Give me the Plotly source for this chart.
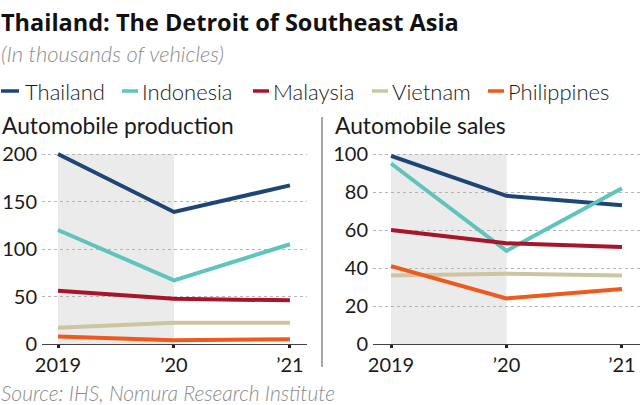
import plotly.graph_objects as go

W, H = 640, 405

years = [2019, 2020, 2021]
year_labels = ["2019", "\u201920", "\u201921"]
countries = ["Thailand", "Indonesia", "Malaysia", "Vietnam", "Philippines"]
colors = ["#1d4676", "#5ec4bd", "#a8152b", "#cdc4a0", "#ee5a1e"]

production_thailand = [200, 139, 167]
production_indonesia = [120, 67, 105]
production_malaysia = [56, 47.5, 46]
production_vietnam = [17, 22.5, 22.5]
production_philippines = [8, 4, 5]

sales_thailand = [99, 78, 73]
sales_indonesia = [95, 49, 82]
sales_malaysia = [60, 53, 51]
sales_vietnam = [36, 37, 36]
sales_philippines = [41, 24, 29]

prod_ticks = [0, 50, 100, 150, 200]
sales_ticks = [0, 20, 40, 60, 80, 100]

production = [production_thailand, production_indonesia, production_malaysia,
              production_vietnam, production_philippines]
sales = [sales_thailand, sales_indonesia, sales_malaysia, sales_vietnam, sales_philippines]

FONT = "Lato"
TXT = "#1a1a1a"
GRAY = "#8c8c8c"

def px(x):
    return x / W

def py(y):
    return 1 - y / H

fig = go.Figure()
for name, col, ys in zip(countries, colors, production):
    fig.add_trace(go.Scatter(x=years, y=ys, mode="lines", name=name,
                             line=dict(color=col, width=4), xaxis="x", yaxis="y",
                             showlegend=False, hoverinfo="skip"))
for name, col, ys in zip(countries, colors, sales):
    fig.add_trace(go.Scatter(x=years, y=ys, mode="lines", name=name,
                             line=dict(color=col, width=4), xaxis="x2", yaxis="y2",
                             showlegend=False, hoverinfo="skip"))

y_dom = [61 / H, (H - 148.3) / H]
common_x = dict(tickvals=years, ticktext=year_labels, showgrid=False, zeroline=False,
                showline=True, linecolor="#444", linewidth=1, automargin=False,
                ticks="outside", ticklen=3, tickwidth=3, tickcolor="#222",
                tickfont=dict(family=FONT, size=20, color=TXT), fixedrange=True)
common_y = dict(showgrid=True, gridcolor="#b5b5b5", griddash="dot", gridwidth=1,
                zeroline=False, showline=False, ticks="", automargin=False,
                tickfont=dict(family=FONT, size=20, color=TXT), fixedrange=True,
                ticklabelstandoff=4)

fig.update_layout(
    template="none",
    width=W, height=H, margin=dict(l=0, r=0, t=0, b=0, pad=0), autosize=False,
    paper_bgcolor="white", plot_bgcolor="white",
    xaxis=dict(domain=[px(42), px(307)], range=[2018.862, 2021.147], anchor="y", **common_x),
    yaxis=dict(domain=y_dom, range=[0, 206], tickvals=prod_ticks, anchor="x", **common_y),
    xaxis2=dict(domain=[px(373), 1.0], range=[2018.844, 2021.156], anchor="y2", **common_x),
    yaxis2=dict(domain=y_dom, range=[0, 103], tickvals=sales_ticks, anchor="x2", **common_y),
    showlegend=False,
)

shapes = [
    dict(type="rect", xref="x", yref="y", x0=years[0], x1=years[1], y0=0, y1=prod_ticks[-1],
         fillcolor="#ebebeb", line=dict(width=0), layer="below"),
    dict(type="rect", xref="x2", yref="y2", x0=years[0], x1=years[1], y0=0, y1=sales_ticks[-1],
         fillcolor="#ebebeb", line=dict(width=0), layer="below"),
    dict(type="line", xref="paper", yref="paper", x0=px(322), x1=px(322), y0=py(117), y1=py(367),
         line=dict(color="#8a8a8a", width=1.5)),
]

annotations = [
    dict(text="<b>Thailand: The Detroit of Southeast Asia</b>", x=0, y=py(22),
         font=dict(family="Open Sans", size=23.5, color="#111")),
    dict(text="<i>(In thousands of vehicles)</i>", x=0, y=py(53),
         font=dict(family=FONT, size=22, color=GRAY, weight=300)),
    dict(text="Automobile production", x=px(1), y=py(125),
         font=dict(family=FONT, size=22.8, color=TXT)),
    dict(text="Automobile sales", x=px(334), y=py(125),
         font=dict(family=FONT, size=22.8, color=TXT)),
    dict(text="<i>Source: IHS, Nomura Research Institute</i>", x=0, y=py(392),
         font=dict(family=FONT, size=21, color=GRAY, weight=300)),
]

leg_dash = [(1, 19), (122, 138), (253, 269), (372, 388), (488, 504)]
leg_text_x = [24, 141, 272, 391, 507]
for name, col, (a, b), tx in zip(countries, colors, leg_dash, leg_text_x):
    shapes.append(dict(type="line", xref="paper", yref="paper", x0=px(a), x1=px(b),
                       y0=py(91), y1=py(91), line=dict(color=col, width=3.5)))
    annotations.append(dict(text=name, x=px(tx), y=py(91),
                            font=dict(family=FONT, size=22, color=TXT, weight=300)))

for a in annotations:
    a.update(xref="paper", yref="paper", xanchor="left", yanchor="middle",
             showarrow=False, borderpad=0)

fig.update_layout(shapes=shapes, annotations=annotations)
fig.write_html("out.html", config={"displayModeBar": False},
               post_script="document.body.style.margin='0px';document.body.style.overflow='hidden';")
